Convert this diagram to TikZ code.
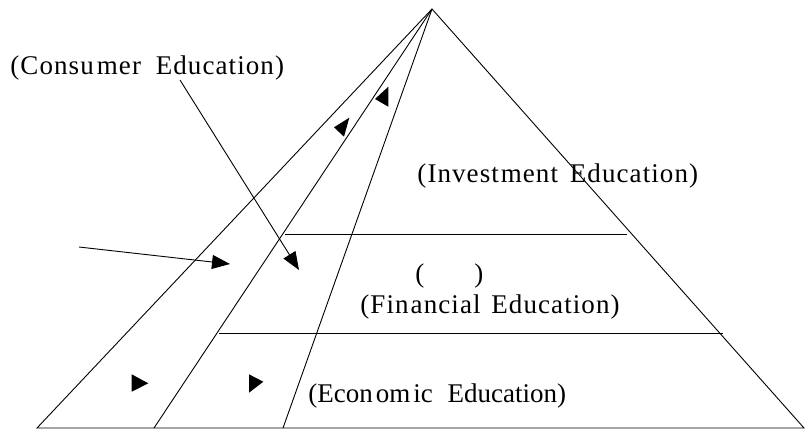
\documentclass[tikz,border=0pt]{standalone}
\usepackage{fontspec}
\setmainfont{Liberation Serif}
\newfontfamily\spacedfont[LetterSpace=4]{Liberation Serif}
\usetikzlibrary{arrows.meta}
\begin{document}
\begin{tikzpicture}[x=1pt,y=-1pt, line width=0.9pt,
  lbl/.style={anchor=base west, inner sep=0pt, font=\fontsize{27}{32}\selectfont},
  slbl/.style={anchor=base west, inner sep=0pt, font=\fontsize{27}{32}\spacedfont},
  arr/.style={-{Triangle[length=18pt,width=14pt]}},
  head/.style={fill=black, draw=none}]
\useasboundingbox (0,0) rectangle (805,432);
% pyramid
\coordinate (apex) at (432,9);
\coordinate (bl) at (37,428);
\coordinate (br) at (804,428);
\coordinate (b1) at (154,428);
\coordinate (b2) at (283,428);
\draw (bl) -- (apex) -- (br) -- cycle;
\draw (apex) -- (b1);
\draw (apex) -- (b2);
% level lines
\coordinate (u1) at (285,234);
\coordinate (u2) at (627,234);
\coordinate (l1) at (219,333);
\coordinate (l2) at (723,333);
\draw (u1) -- (u2);
\draw (l1) -- (l2);
% labels
\node[slbl] (cons) at (10,74) {(Consu\hspace{3pt}mer\hspace{7pt} Education)};
\node[slbl] (inv) at (417,182) {(Invest\hspace{2pt}m\hspace{1pt}ent\hspace{4pt} Education)};
\node[lbl] (par) at (415,282) {(\hspace{50pt})};
\node[slbl] (fin) at (360,313) {(Fin\hspace{2pt}ancial\hspace{3pt} Education)};
\node[lbl] (eco) at (308,402) {(Econ\hspace{3pt}om\hspace{3pt}ic\hspace{8pt} Education)};
% arrows
\coordinate (cstart) at (180,80);
\coordinate (ctip) at (299,270);
\draw[arr] (cstart) -- (ctip);
\coordinate (lstart) at (79,247);
\coordinate (ltip) at (230,264);
\draw[arr] (lstart) -- (ltip);
% loose arrowheads
\fill[head] (388.3,86.7) -- (375,99) -- (388.3,106.7) -- cycle;
\fill[head] (349.3,117.7) -- (334,127.3) -- (344,136.7) -- cycle;
\fill[head] (131.7,374.3) -- (148.3,383.3) -- (131.7,391.7) -- cycle;
\fill[head] (249,374.3) -- (263.3,381.7) -- (249,392.7) -- cycle;
\end{tikzpicture}
\end{document}
